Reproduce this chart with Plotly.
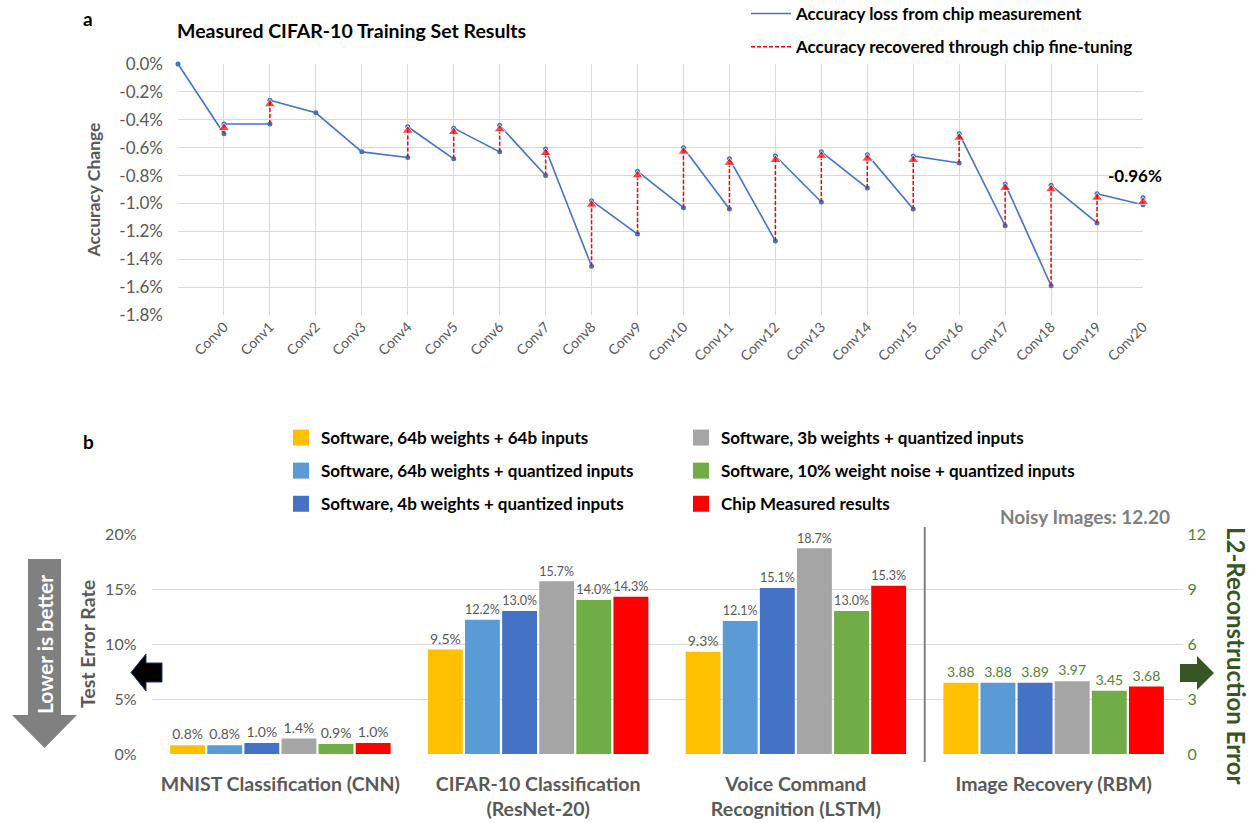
import plotly.graph_objects as go

W, H = 1254, 823


def px(x):
    return x / W


def py(y):
    return 1 - y / H


# ---------------- Panel a data ----------------
chart_a_title = "Measured CIFAR-10 Training Set Results"
start_label = " "
start_value = 0.0
layer_labels = ["Conv0", "Conv1", "Conv2", "Conv3", "Conv4", "Conv5", "Conv6", "Conv7",
                "Conv8", "Conv9", "Conv10", "Conv11", "Conv12", "Conv13", "Conv14",
                "Conv15", "Conv16", "Conv17", "Conv18", "Conv19", "Conv20"]
measured = [-0.50, -0.43, -0.35, -0.63, -0.67, -0.68, -0.63, -0.80, -1.45, -1.22, -1.03,
            -1.04, -1.27, -0.99, -0.89, -1.04, -0.71, -1.16, -1.59, -1.14, -1.01]
recovered = [-0.43, -0.26, -0.35, -0.63, -0.45, -0.46, -0.44, -0.61, -0.98, -0.77, -0.60,
             -0.68, -0.66, -0.63, -0.65, -0.66, -0.50, -0.86, -0.87, -0.93, -0.96]
a_ticks = [0.0, -0.2, -0.4, -0.6, -0.8, -1.0, -1.2, -1.4, -1.6, -1.8]
loss_name = "Accuracy loss from chip measurement"
recov_name = "Accuracy recovered through chip fine-tuning"

# ---------------- Panel b data ----------------
tasks = ["MNIST Classification (CNN)", "CIFAR-10 Classification<br>(ResNet-20)",
         "Voice Command<br>Recognition (LSTM)", "Image Recovery (RBM)"]
series_names = ["Software, 64b weights + 64b inputs",
                "Software, 64b weights + quantized inputs",
                "Software, 4b weights + quantized inputs",
                "Software, 3b weights + quantized inputs",
                "Software, 10% weight noise + quantized inputs",
                "Chip Measured results"]
err_sw64 = [0.8, 9.5, 9.3]
err_sw64q = [0.8, 12.2, 12.1]
err_sw4b = [1.0, 13.0, 15.1]
err_sw3b = [1.4, 15.7, 18.7]
err_noise = [0.9, 14.0, 13.0]
err_chip = [1.0, 14.3, 15.3]
rbm_l2 = [3.88, 3.88, 3.89, 3.97, 3.45, 3.68]
noisy_l2 = 12.20
left_ticks = [0, 5, 10, 15, 20]
right_ticks = [0, 3, 6, 9, 12]

# ---------------- styles ----------------
FONT = "Lato, 'Open Sans', sans-serif"
GREY = "#595959"
GRID = "#d9d9d9"
BLUE = "#4472C4"
bar_colors = ["#FFC000", "#5B9BD5", "#4472C4", "#A5A5A5", "#70AD47", "#FF0000"]
GREEN_T = "#548235"
GREEN_D = "#375623"

fig = go.Figure()

# ---- Panel a traces ----
cats = [start_label] + layer_labels
bx, by = [], []
prev_x, prev_y = start_label, start_value
for lab, m, r in zip(layer_labels, measured, recovered):
    bx += [prev_x, lab, lab]
    by += [prev_y, m, None]
    prev_x, prev_y = lab, r

fig.add_trace(go.Scatter(x=bx, y=by, mode="lines", line=dict(color=BLUE, width=1.6),
                         name=loss_name, legend="legend", legendgroup="loss", connectgaps=False,
                         xaxis="x", yaxis="y", hoverinfo="skip"))

mx, my = [start_label], [start_value]
for lab, m, r in zip(layer_labels, measured, recovered):
    mx.append(lab); my.append(m)
    if r != m:
        mx.append(lab); my.append(r)
fig.add_trace(go.Scatter(x=mx, y=my, mode="markers", marker=dict(color=BLUE, size=5),
                         showlegend=False, cliponaxis=False, xaxis="x", yaxis="y"))

rx, ry, rs = [], [], []
for lab, m, r in zip(layer_labels, measured, recovered):
    if r != m:
        rx += [lab, lab, lab]
        ry += [m, r, None]
        rs += [0, 10, 0]
fig.add_trace(go.Scatter(x=rx, y=ry, mode="lines", line=dict(color="#FF0000", width=1.5, dash="4px,2px"),
                         name=recov_name, legend="legend", legendgroup="recov", connectgaps=False,
                         xaxis="x", yaxis="y"))
fig.add_trace(go.Scatter(x=rx, y=ry, mode="markers",
                         marker=dict(color="#FF0000", size=rs, symbol="triangle-up",
                                     angleref="previous", standoff=4),
                         showlegend=False, cliponaxis=False, xaxis="x", yaxis="y"))

# ---- Panel b traces ----
err_series = [err_sw64, err_sw64q, err_sw4b, err_sw3b, err_noise, err_chip]
for i, (name, vals) in enumerate(zip(series_names, err_series)):
    fig.add_trace(go.Bar(x=tasks[:3], y=vals, name=name, marker=dict(color=bar_colors[i], line=dict(width=0)),
                         texttemplate="%{y:.1f}%", textposition="outside",
                         textfont=dict(size=14, color=GREY, family=FONT),
                         cliponaxis=False, showlegend=False,
                         offsetgroup=str(i), alignmentgroup="b", xaxis="x2", yaxis="y3"))
    fig.add_trace(go.Bar(x=[tasks[3]], y=[rbm_l2[i]], name=name,
                         marker=dict(color=bar_colors[i], line=dict(width=0)),
                         texttemplate="%{y:.2f}", textposition="outside",
                         textfont=dict(size=14, color=GREEN_T, family=FONT),
                         cliponaxis=False, showlegend=False,
                         offsetgroup=str(i), alignmentgroup="b", xaxis="x2", yaxis="y4"))

# legend entries for panel b (two columns)
for i, name in enumerate(series_names):
    fig.add_trace(go.Scatter(x=[None], y=[None], mode="markers",
                             marker=dict(symbol="square", size=20, color=bar_colors[i]),
                             name=name, legendgroup=name,
                             legend="legend2" if i < 3 else "legend3",
                             xaxis="x2", yaxis="y3"))

# ---------------- layout ----------------
fig.update_layout(
    width=W, height=H, autosize=False,
    margin=dict(l=0, r=0, t=0, b=0, autoexpand=False),
    plot_bgcolor="white", paper_bgcolor="white",
    font=dict(family=FONT, color=GREY),
    barmode="group", bargap=0.136, bargroupgap=0.06,
    title=dict(text=chart_a_title, x=px(177), xanchor="left", y=py(31), yanchor="middle",
               font=dict(size=19.5, color="black", weight="bold", family=FONT)),
    xaxis=dict(domain=[px(178), px(1143)], anchor="y", type="category",
               categoryorder="array", categoryarray=cats, range=[0, len(cats) - 1],
               showgrid=True, gridcolor=GRID, gridwidth=1, zeroline=False, showline=False,
               tickangle=-45, tickfont=dict(size=14, color=GREY), ticks="", automargin=False),
    yaxis=dict(domain=[py(315), py(64)], anchor="x", range=[a_ticks[-1], a_ticks[0]],
               tickvals=a_ticks, ticktext=[f"{v:.1f}%" for v in a_ticks],
               showgrid=True, gridcolor=GRID, zeroline=False, showline=False,
               tickfont=dict(size=17, color=GREY), ticklabelstandoff=14, automargin=False,
               title=dict(text="Accuracy Change", standoff=14,
                          font=dict(size=17.5, color=GREY, weight="bold"))),
    xaxis2=dict(domain=[px(151.5), px(1182.5)], anchor="y3", type="category",
                categoryorder="array", categoryarray=tasks, automargin=False,
                showgrid=False, zeroline=False, showline=False, ticks="",
                tickfont=dict(size=19.5, color=GREY, weight="bold"), ticklabelstandoff=16),
    yaxis3=dict(domain=[py(754), py(534)], anchor="x2", range=[0, 20],
                tickvals=left_ticks, ticktext=[f"{v}%" for v in left_ticks],
                showgrid=True, gridcolor=GRID, zeroline=False, showline=False,
                tickfont=dict(size=16, color=GREY), ticklabelstandoff=14, automargin=False,
                title=dict(text="Test Error Rate", standoff=4,
                           font=dict(size=19.5, color=GREY, weight="bold"))),
    yaxis4=dict(overlaying="y3", side="right", anchor="x2", range=[0, 12],
                tickvals=right_ticks, ticktext=[str(v) for v in right_ticks],
                showgrid=False, zeroline=False, showline=False, automargin=False,
                tickfont=dict(size=16, color=GREEN_T), ticklabelstandoff=4),
    legend=dict(x=px(746), y=py(-4), xanchor="left", yanchor="top", bgcolor="rgba(0,0,0,0)",
                font=dict(size=17, color="black", weight="bold"), itemwidth=40,
                tracegroupgap=8),
    legend2=dict(x=px(281), y=py(420), xanchor="left", yanchor="top", bgcolor="rgba(0,0,0,0)",
                 font=dict(size=17, color="black", weight="bold"), tracegroupgap=8,
                 itemsizing="trace"),
    legend3=dict(x=px(681), y=py(420), xanchor="left", yanchor="top", bgcolor="rgba(0,0,0,0)",
                 font=dict(size=17, color="black", weight="bold"), tracegroupgap=8,
                 itemsizing="trace"),
)

# ---- decorations ----
def path(points):
    return "M " + " L ".join(f"{px(x):.5f},{py(y):.5f}" for x, y in points) + " Z"

shapes = [
    # "Lower is better" arrow
    dict(type="path", xref="paper", yref="paper", line=dict(width=0), fillcolor="#808080",
         path=path([(28, 559), (61, 559), (61, 715), (77, 715), (44.5, 748), (12, 715), (28, 715)])),
    # black arrow to left axis
    dict(type="path", xref="paper", yref="paper", line=dict(width=1, color="#1f3864"), fillcolor="black",
         path=path([(162, 663), (146, 663), (146, 654), (131, 672.5), (146, 691), (146, 682), (162, 682)])),
    # green arrow to right axis
    dict(type="path", xref="paper", yref="paper", line=dict(width=0), fillcolor=GREEN_D,
         path=path([(1180, 664), (1197, 664), (1197, 656), (1214, 673), (1197, 690), (1197, 682), (1180, 682)])),
    # separator
    dict(type="line", xref="x2", yref="paper", x0=2.5, x1=2.5, y0=py(762), y1=py(527),
         line=dict(color="#808080", width=2)),
    # noisy images reference line
    dict(type="line", xref="x2", yref="y4", x0=2.52, x1=3.49, y0=noisy_l2, y1=noisy_l2,
         line=dict(color="#808080", width=2.5, dash="dash")),
]
fig.update_layout(shapes=shapes)

def ann(text, x, y, size, color, angle=0):
    return dict(text=text, x=px(x), y=py(y), xref="paper", yref="paper", showarrow=False,
                xanchor="center", yanchor="middle", textangle=angle,
                font=dict(size=size, color=color))

annotations = [
    ann("<b>a</b>", 88, 18, 19, "black"),
    ann("<b>b</b>", 88, 441, 19, "black"),
    ann(f"<b>Noisy Images: {noisy_l2:.2f}</b>", 1085, 516, 19, "#7f7f7f"),
    ann("<b>L2-Reconstruction Error</b>", 1237, 655, 24, GREEN_D, 90),
    ann("<b>Lower is better</b>", 44, 645, 21, "white", -90),
    dict(text=f"<b>{recovered[-1]:.2f}%</b>", x=layer_labels[-1], y=recovered[-1], xref="x", yref="y",
         showarrow=False, xanchor="center", yanchor="middle", xshift=-8, yshift=22,
         font=dict(size=17, color="black")),
]
fig.update_layout(annotations=annotations)

fig.write_html("out.html", config={"displayModeBar": False},
               post_script="document.body.style.margin='0px';")
